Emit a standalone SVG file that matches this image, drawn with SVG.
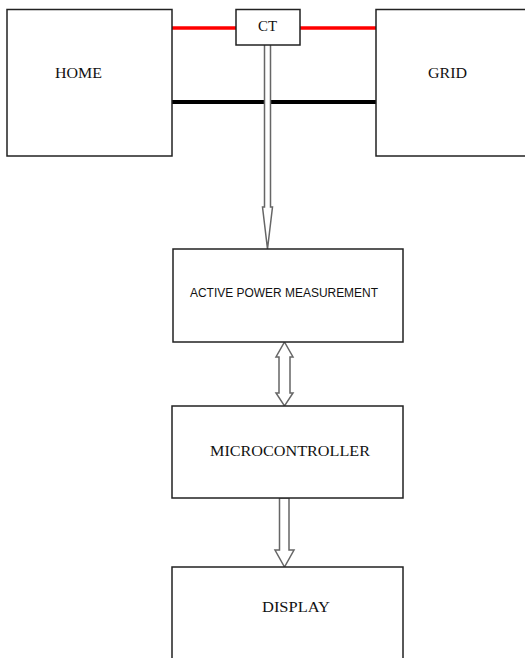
<svg xmlns="http://www.w3.org/2000/svg" width="525" height="658" viewBox="0 0 525 658">
<style>
.box{fill:#fff;stroke:#222;stroke-width:1.5}
.serif{font-family:"Liberation Serif","Times New Roman",serif;font-size:15px;fill:#111}
.sans{font-family:"Liberation Sans",Arial,sans-serif;font-size:12px;fill:#111}
.arrow{fill:#fff;stroke:#666;stroke-width:1.5;stroke-linejoin:miter}
</style>
<rect width="525" height="658" fill="#fff"/>
<g id="connectors">
<line x1="172" y1="28" x2="236" y2="28" stroke="#f00" stroke-width="3.5"/>
<line x1="300" y1="28" x2="376" y2="28" stroke="#f00" stroke-width="3.5"/>
<line x1="172" y1="102" x2="376" y2="102" stroke="#000" stroke-width="4"/>
<path class="arrow" d="M264.5,45 L264.5,207 L262.5,207 L267.5,249 L272.5,207 L270.5,207 L270.5,45"/>
<path class="arrow" d="M284.5,342 L293,357 L290,357 L290,393 L293,393 L284.5,406 L276,393 L279,393 L279,357 L276,357 Z"/>
<path class="arrow" d="M279.5,498 L289,498 L289,550 L294,550 L284.5,567 L275,550 L279.5,550 Z"/>
</g>
<g id="home">
<rect class="box" x="7" y="9.5" width="165" height="146.5"/>
<text class="serif" x="55" y="78" textLength="47" lengthAdjust="spacingAndGlyphs">HOME</text>
</g>
<g id="ct">
<rect class="box" x="236" y="9.5" width="64" height="35.5"/>
<text class="serif" x="258" y="31" textLength="19" lengthAdjust="spacingAndGlyphs">CT</text>
</g>
<g id="grid">
<rect class="box" x="376" y="9.5" width="160" height="146.5"/>
<text class="serif" x="428" y="78" textLength="39" lengthAdjust="spacingAndGlyphs">GRID</text>
</g>
<g id="apm">
<rect class="box" x="173" y="249" width="230" height="93"/>
<text class="sans" x="190" y="297" textLength="188" lengthAdjust="spacingAndGlyphs">ACTIVE POWER MEASUREMENT</text>
</g>
<g id="mcu">
<rect class="box" x="172" y="406" width="231" height="92"/>
<text class="serif" x="210" y="456" textLength="160" lengthAdjust="spacingAndGlyphs">MICROCONTROLLER</text>
</g>
<g id="display">
<rect class="box" x="172" y="567" width="231" height="100"/>
<text class="serif" x="262" y="612" textLength="68" lengthAdjust="spacingAndGlyphs">DISPLAY</text>
</g>
</svg>
